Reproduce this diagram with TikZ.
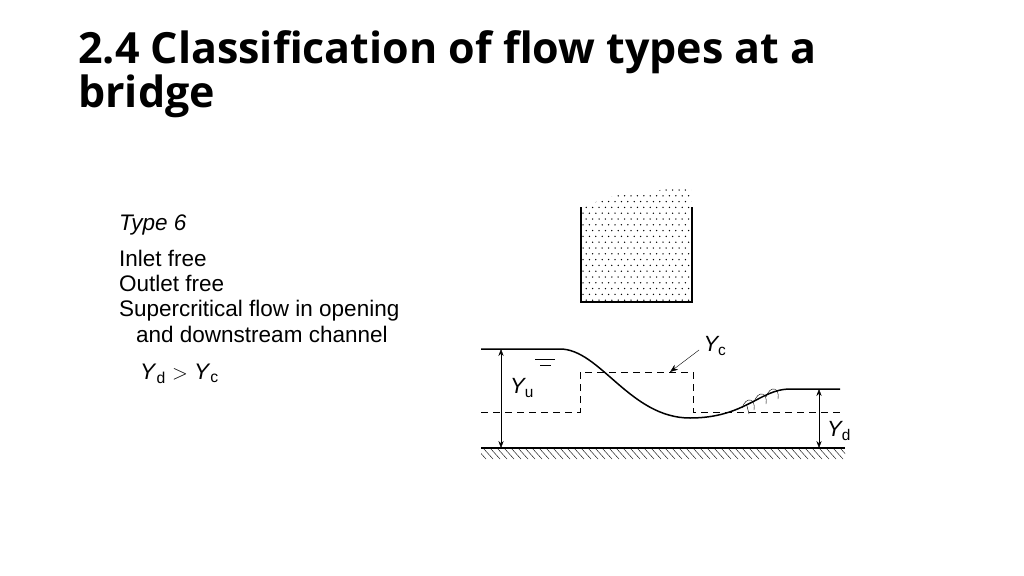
\documentclass[tikz,border=0pt]{standalone}
\usepackage{fontspec}
\setmainfont{Liberation Sans}
\newfontfamily\titlefont{Open Sans}
\usetikzlibrary{arrows.meta}
\begin{document}
\begin{tikzpicture}[x=1pt,y=-1pt,
	wall/.style={line width=1.6pt},
	dim/.style={thin,{Stealth[length=7pt]}-{Stealth[length=7pt]}},
	crit/.style={dashed,dash pattern=on 7pt off 5pt,thin},
	txt/.style={anchor=base west,inner sep=0pt,font=\fontsize{22.5}{24}\selectfont},
	lab/.style={font=\fontsize{22}{24}\selectfont\itshape}]
	\useasboundingbox (0,0) rectangle (1024,575);
	
	\node[anchor=base west,inner sep=0pt,align=left,font=\titlefont\bfseries\fontsize{43}{40}\selectfont] (title) at (78,108) {2.4 Classification of flow types at a\\bridge};
	
	\node[txt] (type) at (119,230) {\itshape Type 6};
	\node[txt] (l1) at (119,266) {Inlet free};
	\node[txt] (l2) at (119,291) {Outlet free};
	\node[txt] (l3) at (119,316) {Supercritical flow in opening};
	\node[txt] (l4) at (136,342) {and downstream channel};
	\node[txt] (l5) at (140,379) {\textit{Y}\textsubscript{d} $>$ \textit{Y}\textsubscript{c}};
	
	% bridge deck
	\begin{scope}
		\clip (582,208) -- (582,301) -- (691,301) -- (691,190)
			.. controls (660,186) and (640,196) .. (620,194) .. controls (600,200) .. (582,208);
		\foreach \i in {0,...,17}
			\foreach \j in {0,...,19}
				\fill ({583+\i*6.4+mod(\j,2)*3.2},{190+\j*5.8}) circle (0.75);
	\end{scope}
	\draw[wall] (581,207)--(581,302)--(692,302)--(692,207);
	
	% channel bed
	\begin{scope}
		\clip (481,448) rectangle (845,459);
		\foreach \x in {476,483,...,846}
			\draw[thin] (\x,448)--({\x+10},459);
	\end{scope}
	\draw[line width=1.2pt] (481,448)--(845,448);
	
	% critical depth
	\draw[crit] (481,412)--(580,412)--(580,372)--(693,372)--(693,412)--(840,412);
	
	% water surface
	\draw[line width=1.5pt] (481,349)--(560,349)
		.. controls (600,349) and (630,418) .. (690,418)
		.. controls (745,418) and (760,389) .. (790,389)--(840,389);
	\foreach \x/\y in {748/404,760/398,772/393}
		\draw[thin] ({\x-6},{\y+4}) .. controls ({\x-2},{\y-8}) and ({\x+8},{\y-6}) .. ({\x+6},{\y+6});
	\draw[thin] (747,406)--(749,414);
	\draw[thin] (535,359)--(555,359);
	\draw[thin] (540,365)--(551,365);
	
	% depths
	\coordinate (yutop) at (501,349);
	\coordinate (yubot) at (501,448);
	\coordinate (ydtop) at (819,389);
	\coordinate (ydbot) at (819,448);
	\draw[dim] (yutop)--(yubot);
	\draw[dim] (ydtop)--(ydbot);
	\node[lab] (yu) at (522,388) {Y\textsubscript{\upshape u}};
	\node[lab] (yd) at (839,431) {Y\textsubscript{\upshape d}};
	\node[lab] (yc) at (715,346) {Y\textsubscript{\upshape c}};
	\coordinate (yctip) at (670,372);
	\draw[thin,-{Stealth[length=8pt]}] (yc.west)++(-1,4)--(yctip);
\end{tikzpicture}
\end{document}
